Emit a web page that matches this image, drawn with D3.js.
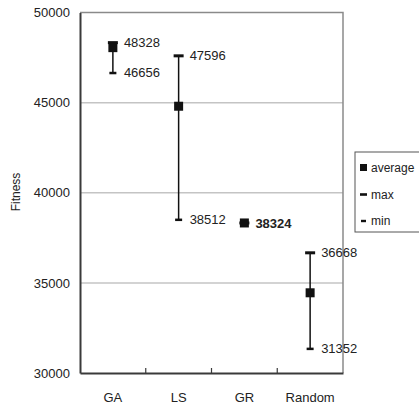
<!DOCTYPE html>
<html>
<head>
<meta charset="utf-8">
<script src="https://cdn.jsdelivr.net/npm/d3@7"></script>
<style>
html,body{margin:0;padding:0;background:#fff;}
svg{display:block;font-family:"Liberation Sans",Arial,sans-serif;}
</style>
</head>
<body>
<svg id="chart" width="419" height="405"></svg>
<script>
const categories = ["GA", "LS", "GR", "Random"];
const avgValues = [48050, 44800, 38324, 34450];
const maxValues = [48328, 47596, 38324, 36668];
const minValues = [46656, 38512, 38324, 31352];
const yTicks = [30000, 35000, 40000, 45000, 50000];
const legendLabels = ["average", "max", "min"];

(function () {
const data = categories.map((c, i) => ({cat: c, avg: avgValues[i], max: maxValues[i], min: minValues[i]}));

const svg = d3.select("#chart");
const pL = 80, pR = 343, pT = 12.5, pB = 373;

const x = d3.scaleBand().domain(categories).range([pL, pR]);
const y = d3.scaleLinear().domain([30000, 50000]).range([pB, pT]);

// gridlines
svg.append("g").selectAll("line").data(yTicks.filter(t => t > 30000 && t < 50000)).join("line")
  .attr("x1", pL).attr("x2", pR)
  .attr("y1", d => y(d)).attr("y2", d => y(d))
  .attr("stroke", "#c4c4c4").attr("stroke-width", 1.5);

// plot border (top, right)
svg.append("path")
  .attr("d", `M${pL},${pT}H${pR}V${pB}`)
  .attr("fill", "none").attr("stroke", "#8a8a8a").attr("stroke-width", 1.5);

// y axis
const yAxis = d3.axisLeft(y).tickValues(yTicks).tickSize(0).tickPadding(10).tickFormat(d3.format("d"));
const gy = svg.append("g").attr("transform", `translate(${pL},0)`).call(yAxis);
gy.select(".domain").attr("stroke", "#3a3a3a").attr("stroke-width", 2);
gy.selectAll("text").attr("font-size", 13).attr("fill", "#222").attr("font-family", "Liberation Sans, Arial, sans-serif");

// x axis
const xAxis = d3.axisBottom(x).tickSize(0).tickPadding(20);
const gx = svg.append("g").attr("transform", `translate(0,${pB})`).call(xAxis);
gx.select(".domain").attr("stroke", "#3a3a3a").attr("stroke-width", 2);
gx.selectAll("text").attr("font-size", 13).attr("fill", "#222").attr("font-family", "Liberation Sans, Arial, sans-serif");

// category boundary ticks (inside, upward)
const bounds = categories.slice(1).map(c => x(c));
svg.append("g").selectAll("line").data(bounds).join("line")
  .attr("x1", d => d).attr("x2", d => d)
  .attr("y1", pB).attr("y2", pB - 5)
  .attr("stroke", "#3a3a3a").attr("stroke-width", 1.2);

// y axis title
svg.append("text")
  .attr("transform", "translate(20,192) rotate(-90)")
  .attr("text-anchor", "middle")
  .attr("font-size", 12).attr("fill", "#222")
  .text("Fitness");

const cx = d => x(d.cat) + x.bandwidth() / 2;

const marks = svg.append("g");
marks.selectAll("line.v").data(data).join("line").attr("class", "v")
  .attr("x1", cx).attr("x2", cx)
  .attr("y1", d => y(d.max)).attr("y2", d => y(d.min))
  .attr("stroke", "#111").attr("stroke-width", 1.5);
marks.selectAll("rect.max").data(data).join("rect").attr("class", "max")
  .attr("x", d => cx(d) - 5).attr("y", d => y(d.max) - 1.5)
  .attr("width", 10).attr("height", 3).attr("fill", "#111");
marks.selectAll("rect.min").data(data).join("rect").attr("class", "min")
  .attr("x", d => cx(d) - 3.5).attr("y", d => y(d.min) - 1)
  .attr("width", 7).attr("height", 2.5).attr("fill", "#111");
marks.selectAll("rect.avg").data(data).join("rect").attr("class", "avg")
  .attr("x", d => cx(d) - 4.5).attr("y", d => y(d.avg) - 4.5)
  .attr("width", 9).attr("height", 9).attr("fill", "#111");

// value labels
const labels = [];
data.forEach(d => {
  if (d.max === d.min) {
    labels.push({x: cx(d) + 11, y: y(d.max), t: d.max, bold: true});
  } else {
    labels.push({x: cx(d) + 11, y: y(d.max), t: d.max, bold: false});
    labels.push({x: cx(d) + 11, y: y(d.min), t: d.min, bold: false});
  }
});
svg.append("g").selectAll("text").data(labels).join("text")
  .attr("x", d => d.x).attr("y", d => d.y)
  .attr("dy", "0.35em")
  .attr("font-size", 13).attr("fill", "#222")
  .attr("font-weight", d => d.bold ? "bold" : "normal")
  .text(d => d.t);

// legend
const lg = svg.append("g");
lg.append("rect").attr("x", 355).attr("y", 152).attr("width", 70).attr("height", 80)
  .attr("fill", "#fff").attr("stroke", "#555").attr("stroke-width", 1);
const ly = [167.5, 194.5, 221];
lg.append("rect").attr("x", 360).attr("y", ly[0] - 3.5).attr("width", 7).attr("height", 7).attr("fill", "#111");
lg.append("rect").attr("x", 360).attr("y", ly[1] - 1.3).attr("width", 7).attr("height", 2.6).attr("fill", "#111");
lg.append("rect").attr("x", 361).attr("y", ly[2] - 1.2).attr("width", 5).attr("height", 2.4).attr("fill", "#111");
lg.selectAll("text").data(legendLabels).join("text")
  .attr("x", 371).attr("y", (d, i) => ly[i]).attr("dy", "0.35em")
  .attr("font-size", 12).attr("fill", "#222")
  .text(d => d);
})();
</script>
</body>
</html>
